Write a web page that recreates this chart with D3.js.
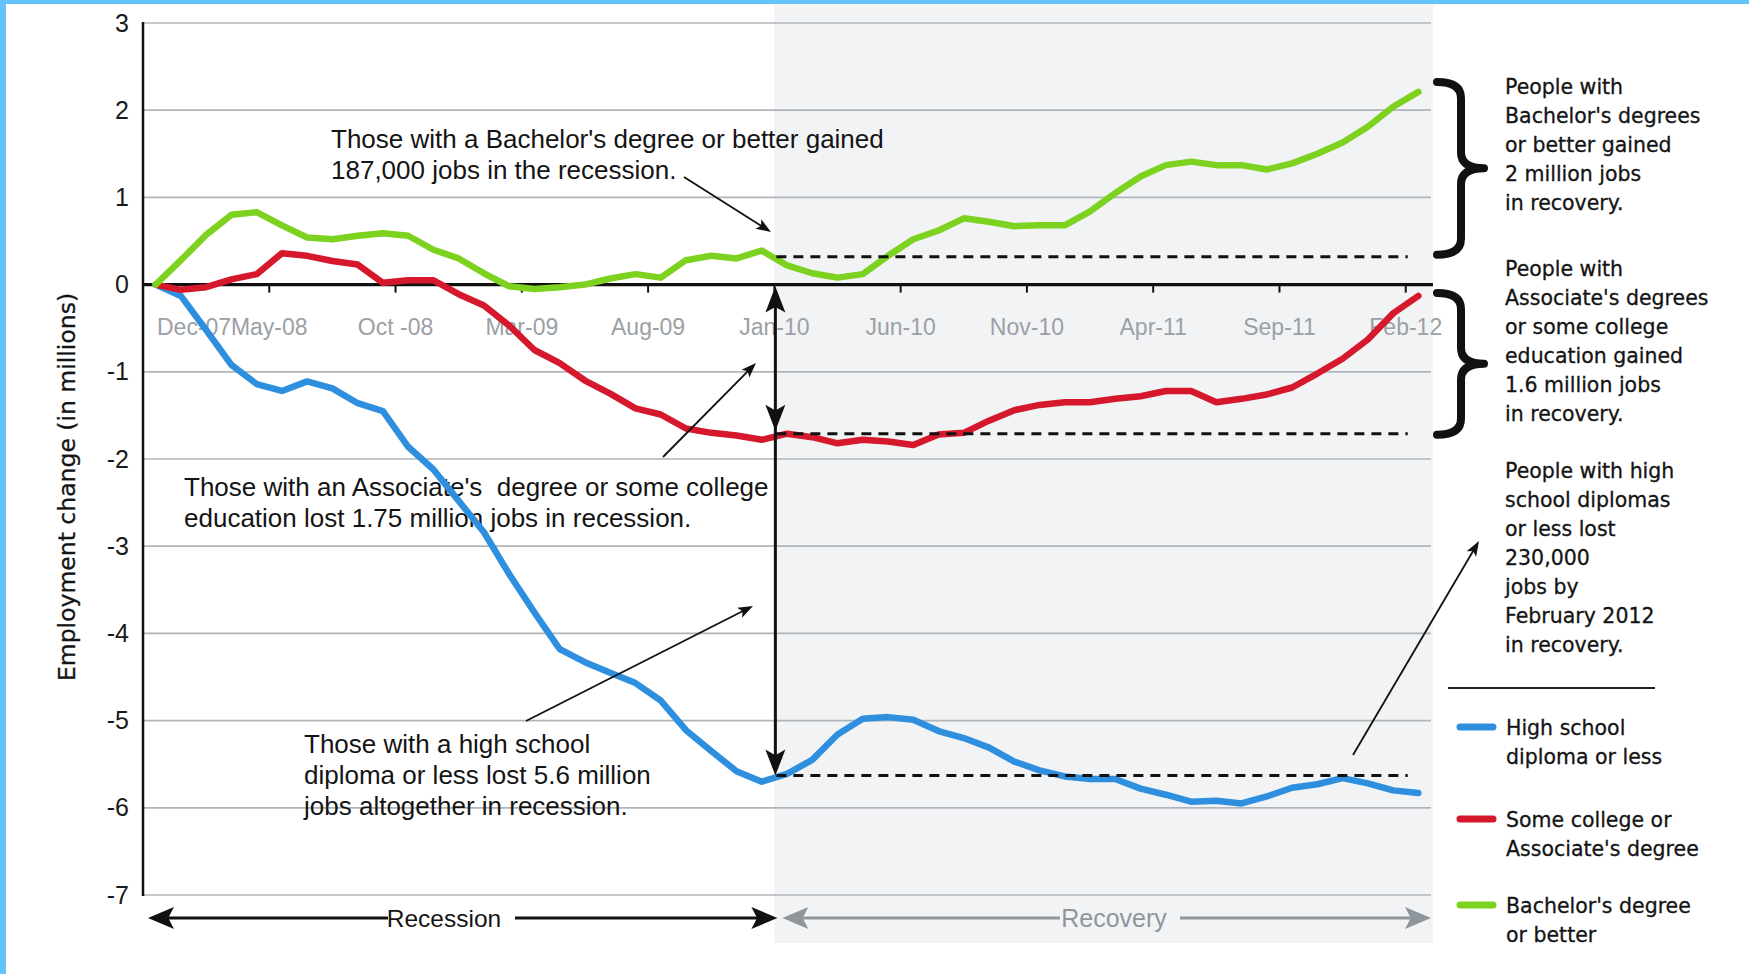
<!DOCTYPE html>
<html>
<head>
<meta charset="utf-8">
<script src="https://cdn.jsdelivr.net/npm/d3@7"></script>
<style>
  body { margin: 0; background: #fff; }
  svg { display: block; }
  .note { font-family: "Liberation Sans", Arial, sans-serif; font-size: 26px; fill: #141414; white-space: pre; }
  .side { font-family: "DejaVu Sans", Verdana, sans-serif; font-size: 20.5px; fill: #141414; stroke: #141414; stroke-width: 0.3px; }
</style>
</head>
<body>
<svg id="chart" width="1749" height="974"></svg>
<script>
// months Dec-07 .. Feb-12
const months = [
  "Dec-07",
  "Jan-08","Feb-08","Mar-08","Apr-08","May-08","Jun-08","Jul-08","Aug-08","Sep-08","Oct-08","Nov-08","Dec-08",
  "Jan-09","Feb-09","Mar-09","Apr-09","May-09","Jun-09","Jul-09","Aug-09","Sep-09","Oct-09","Nov-09","Dec-09",
  "Jan-10","Feb-10","Mar-10","Apr-10","May-10","Jun-10","Jul-10","Aug-10","Sep-10","Oct-10","Nov-10","Dec-10",
  "Jan-11","Feb-11","Mar-11","Apr-11","May-11","Jun-11","Jul-11","Aug-11","Sep-11","Oct-11","Nov-11","Dec-11",
  "Jan-12","Feb-12"
];
const tickIndex = [0, 5, 10, 15, 20, 25, 30, 35, 40, 45, 50];
const tickLabels = ["Dec-07", "May-08", "Oct -08", "Mar-09", "Aug-09", "Jan-10", "Jun-10", "Nov-10", "Apr-11", "Sep-11", "Feb-12"];
const yTicks = [3, 2, 1, 0, -1, -2, -3, -4, -5, -6, -7];

// employment change, millions
const highSchool = [
  0, -0.13, -0.52, -0.92, -1.14, -1.22, -1.11, -1.19, -1.36, -1.45, -1.86, -2.12, -2.48,
  -2.84, -3.32, -3.76, -4.18, -4.33, -4.45, -4.57, -4.77, -5.11, -5.35, -5.58, -5.70,
  -5.61, -5.45, -5.16, -4.98, -4.96, -4.99, -5.12, -5.20, -5.31, -5.47, -5.57, -5.64,
  -5.67, -5.67, -5.78, -5.85, -5.93, -5.92, -5.95, -5.87, -5.77, -5.73, -5.66, -5.72,
  -5.80, -5.83
];
const someCollege = [
  0, -0.06, -0.03, 0.06, 0.12, 0.36, 0.33, 0.27, 0.23, 0.02, 0.05, 0.05, -0.11,
  -0.24, -0.47, -0.75, -0.90, -1.10, -1.25, -1.42, -1.49, -1.65, -1.70, -1.73, -1.78,
  -1.71, -1.75, -1.82, -1.78, -1.80, -1.84, -1.72, -1.70, -1.56, -1.44, -1.38, -1.35,
  -1.35, -1.31, -1.28, -1.22, -1.22, -1.35, -1.31, -1.26, -1.18, -1.02, -0.85, -0.63,
  -0.33, -0.13
];
const bachelors = [
  0, 0.28, 0.57, 0.80, 0.83, 0.68, 0.54, 0.52, 0.56, 0.59, 0.56, 0.40, 0.30,
  0.13, -0.02, -0.05, -0.03, 0.00, 0.07, 0.12, 0.08, 0.28, 0.33, 0.30, 0.39,
  0.22, 0.13, 0.08, 0.12, 0.33, 0.52, 0.62, 0.76, 0.72, 0.67, 0.68, 0.68,
  0.84, 1.05, 1.24, 1.37, 1.41, 1.37, 1.37, 1.32, 1.39, 1.50, 1.63, 1.81,
  2.04, 2.21
];
// level of each group when the recession ended (dashed lines)
const recessionLevels = { highSchool: -5.63, someCollege: -1.71, bachelors: 0.32 };

const series = [
  { key: "highSchool", values: highSchool, color: "#2f8fdf" },
  { key: "someCollege", values: someCollege, color: "#d5182b" },
  { key: "bachelors", values: bachelors, color: "#7dd21f" }
];

const svg = d3.select("#chart");

const x = d3.scaleBand().domain(months).range([143, 1431]).paddingInner(0).paddingOuter(0);
const y = d3.scaleLinear().domain([-7, 3]).range([895, 23]);
const cx = (i) => x(months[i]) + x.bandwidth() / 2;
const split = x("Jan-10");
const lastTick = x("Feb-12");

function head(g, tx, ty, fx, fy, len, wid, color) {
  const a = Math.atan2(ty - fy, tx - fx);
  const c = Math.cos(a), s = Math.sin(a);
  const bx = tx - len * c, by = ty - len * s;
  const nx = tx - len * 0.78 * c, ny = ty - len * 0.78 * s;
  const px = -s * wid / 2, py = c * wid / 2;
  g.append("path")
    .attr("d", `M${tx},${ty}L${bx + px},${by + py}L${nx},${ny}L${bx - px},${by - py}Z`)
    .attr("fill", color);
}
function arrow(g, x1, y1, x2, y2, opt) {
  const a = Math.atan2(y2 - y1, x2 - x1);
  g.append("line")
    .attr("x1", x1).attr("y1", y1)
    .attr("x2", x2 - opt.len * 0.6 * Math.cos(a))
    .attr("y2", y2 - opt.len * 0.6 * Math.sin(a))
    .attr("stroke", opt.color).attr("stroke-width", opt.width);
  head(g, x2, y2, x1, y1, opt.len, opt.wid, opt.color);
}

// frame
svg.append("rect").attr("width", 1749).attr("height", 974).attr("fill", "#fff");

// recovery shading
svg.append("rect")
  .attr("x", split).attr("y", 4)
  .attr("width", 1433 - split).attr("height", 939)
  .attr("fill", "#f2f3f5");

// gridlines
svg.append("g").selectAll("line")
  .data(yTicks.filter((d) => d !== 0))
  .join("line")
  .attr("x1", 143).attr("x2", 1431)
  .attr("y1", (d) => y(d)).attr("y2", (d) => y(d))
  .attr("stroke", "#b0b5ba").attr("stroke-width", 1.7);

// y axis
svg.append("line")
  .attr("x1", 143).attr("x2", 143)
  .attr("y1", y(3) - 1).attr("y2", y(-7) + 1)
  .attr("stroke", "#111").attr("stroke-width", 2.5);

const yAxis = svg.append("g")
  .attr("transform", "translate(129,0)")
  .call(d3.axisLeft(y).tickValues(yTicks).tickSize(0).tickPadding(0).tickFormat((d) => String(d)));
yAxis.select(".domain").remove();
yAxis.selectAll("text")
  .attr("font-family", "'Liberation Sans', Arial, sans-serif")
  .attr("font-size", 25)
  .attr("fill", "#1a1a1a");

svg.append("text")
  .attr("transform", "translate(75,487) rotate(-90)")
  .attr("text-anchor", "middle")
  .attr("font-family", "'DejaVu Sans', Verdana, sans-serif")
  .attr("font-size", 23.5)
  .attr("fill", "#141414")
  .attr("stroke", "#141414")
  .attr("stroke-width", 0.3)
  .text("Employment change (in millions)");

// zero axis and month ticks
svg.append("line")
  .attr("x1", 143).attr("x2", 1433)
  .attr("y1", y(0)).attr("y2", y(0))
  .attr("stroke", "#111").attr("stroke-width", 3.2);

const xTicks = svg.append("g");
xTicks.selectAll("line")
  .data(tickIndex.slice(1))
  .join("line")
  .attr("x1", (d) => x(months[d])).attr("x2", (d) => x(months[d]))
  .attr("y1", y(0)).attr("y2", y(0) + 8)
  .attr("stroke", "#111").attr("stroke-width", 2);
xTicks.selectAll("text")
  .data(tickIndex)
  .join("text")
  .attr("x", (d, i) => (i === 0 ? x(months[d]) + 14 : x(months[d])))
  .attr("y", y(0) + 50)
  .attr("text-anchor", (d, i) => (i === 0 ? "start" : "middle"))
  .attr("font-family", "'Liberation Sans', Arial, sans-serif")
  .attr("font-size", 23)
  .attr("fill", "#9ba0a5")
  .text((d, i) => tickLabels[i]);

// annotation texts
const notes = [
  { x: 331, y: 148, lines: ["Those with a Bachelor's degree or better gained", "187,000 jobs in the recession."] },
  { x: 184, y: 496, lines: ["Those with an Associate's  degree or some college", "education lost 1.75 million jobs in recession."] },
  { x: 304, y: 753, lines: ["Those with a high school", "diploma or less lost 5.6 million", "jobs altogether in recession."] }
];
const noteG = svg.append("g");
notes.forEach((n) => {
  const t = noteG.append("text").attr("class", "note").attr("x", n.x).attr("y", n.y);
  n.lines.forEach((l, i) => {
    t.append("tspan").attr("x", n.x).attr("dy", i === 0 ? 0 : 31).text(l);
  });
});

// series
const line = d3.line().x((d, i) => cx(i)).y((d) => y(d));
svg.append("g").selectAll("path")
  .data(series)
  .join("path")
  .attr("d", (d) => line(d.values))
  .attr("fill", "none")
  .attr("stroke", (d) => d.color)
  .attr("stroke-width", 6.5)
  .attr("stroke-linejoin", "round")
  .attr("stroke-linecap", "round");

// dashed recession levels
svg.append("g").selectAll("line")
  .data(series)
  .join("line")
  .attr("x1", split + 2).attr("x2", lastTick + 2)
  .attr("y1", (d) => y(recessionLevels[d.key])).attr("y2", (d) => y(recessionLevels[d.key]))
  .attr("stroke", "#111").attr("stroke-width", 3)
  .attr("stroke-dasharray", "10,7");

// arrows
const ag = svg.append("g");
const vx = split + 1;
ag.append("line")
  .attr("x1", vx).attr("x2", vx)
  .attr("y1", y(0) + 14).attr("y2", y(recessionLevels.highSchool) - 14)
  .attr("stroke", "#111").attr("stroke-width", 3);
head(ag, vx, y(0) + 2, vx, y(0) + 40, 26, 20, "#111");
head(ag, vx, y(recessionLevels.someCollege) - 3, vx, y(0), 26, 20, "#111");
head(ag, vx, y(recessionLevels.highSchool), vx, y(0), 26, 20, "#111");

const thin = { len: 15, wid: 11, color: "#111", width: 1.8 };
arrow(ag, 684, 177, 771, 232, thin);
arrow(ag, 663, 457, 756, 363, thin);
arrow(ag, 526, 721, 753, 606, thin);
arrow(ag, 1353, 755, 1479, 541, thin);

// recession / recovery spans
const spanY = 918;
ag.append("line").attr("x1", 160).attr("x2", 388).attr("y1", spanY).attr("y2", spanY)
  .attr("stroke", "#111").attr("stroke-width", 3);
ag.append("line").attr("x1", 515).attr("x2", split - 10).attr("y1", spanY).attr("y2", spanY)
  .attr("stroke", "#111").attr("stroke-width", 3);
head(ag, 148, spanY, 300, spanY, 26, 22, "#111");
head(ag, split + 3, spanY, 600, spanY, 26, 22, "#111");
ag.append("text").attr("x", 444).attr("y", spanY + 9)
  .attr("text-anchor", "middle")
  .attr("font-family", "'Liberation Sans', Arial, sans-serif")
  .attr("font-size", 24.5).attr("fill", "#141414")
  .text("Recession");

ag.append("line").attr("x1", split + 18).attr("x2", 1060).attr("y1", spanY).attr("y2", spanY)
  .attr("stroke", "#8e969c").attr("stroke-width", 3);
ag.append("line").attr("x1", 1180).attr("x2", 1418).attr("y1", spanY).attr("y2", spanY)
  .attr("stroke", "#8e969c").attr("stroke-width", 3);
head(ag, split + 8, spanY, 1000, spanY, 26, 22, "#8e969c");
head(ag, 1431, spanY, 1200, spanY, 26, 22, "#8e969c");
ag.append("text").attr("x", 1114).attr("y", spanY + 9)
  .attr("text-anchor", "middle")
  .attr("font-family", "'Liberation Sans', Arial, sans-serif")
  .attr("font-size", 25).attr("fill", "#8e969c")
  .text("Recovery");

// braces
function brace(top, bottom) {
  const L = 1437, S = 1461, T = 1484, m = (top + bottom) / 2, r = 16;
  return `M${L},${top}Q${S},${top} ${S},${top + r}L${S},${m - r}Q${S},${m} ${T},${m}` +
    `Q${S},${m} ${S},${m + r}L${S},${bottom - r}Q${S},${bottom} ${L},${bottom}`;
}
svg.append("g").selectAll("path")
  .data([
    [y(bachelors[50]) - 10, y(recessionLevels.bachelors) - 2],
    [y(someCollege[50]) - 3, y(recessionLevels.someCollege) + 1]
  ])
  .join("path")
  .attr("d", (d) => brace(d[0], d[1]))
  .attr("fill", "none")
  .attr("stroke", "#111")
  .attr("stroke-width", 8)
  .attr("stroke-linecap", "round")
  .attr("stroke-linejoin", "round");

// side notes
const sideNotes = [
  { y: 94, lines: ["People with", "Bachelor's degrees", "or better gained", "2 million jobs", "in recovery."] },
  { y: 276, lines: ["People with", "Associate's degrees", "or some college", "education gained", "1.6 million jobs", "in recovery."] },
  { y: 478, lines: ["People with high", "school diplomas", "or less lost", "230,000", "jobs by", "February 2012", "in recovery."] }
];
const sideG = svg.append("g");
sideNotes.forEach((n) => {
  const t = sideG.append("text").attr("class", "side").attr("x", 1505).attr("y", n.y);
  n.lines.forEach((l, i) => {
    t.append("tspan").attr("x", 1505).attr("dy", i === 0 ? 0 : 29).text(l);
  });
});

svg.append("line").attr("x1", 1448).attr("x2", 1655).attr("y1", 688).attr("y2", 688)
  .attr("stroke", "#222").attr("stroke-width", 2);

// legend
const legendItems = [
  { key: "highSchool", y: 727, lines: ["High school", "diploma or less"] },
  { key: "someCollege", y: 819, lines: ["Some college or", "Associate's degree"] },
  { key: "bachelors", y: 905, lines: ["Bachelor's degree", "or better"] }
];
const lg = svg.append("g");
legendItems.forEach((d) => {
  const s = series.find((e) => e.key === d.key);
  lg.append("line").attr("x1", 1460).attr("x2", 1493).attr("y1", d.y).attr("y2", d.y)
    .attr("stroke", s.color).attr("stroke-width", 7).attr("stroke-linecap", "round");
  const t = lg.append("text").attr("class", "side").attr("x", 1506).attr("y", d.y + 8);
  d.lines.forEach((l, i) => {
    t.append("tspan").attr("x", 1506).attr("dy", i === 0 ? 0 : 29).text(l);
  });
});

// blue page border
svg.append("rect").attr("x", 0).attr("y", 0).attr("width", 6).attr("height", 974).attr("fill", "#63c4fb");
svg.append("rect").attr("x", 0).attr("y", 0).attr("width", 1749).attr("height", 4).attr("fill", "#63c4fb");
</script>
</body>
</html>
